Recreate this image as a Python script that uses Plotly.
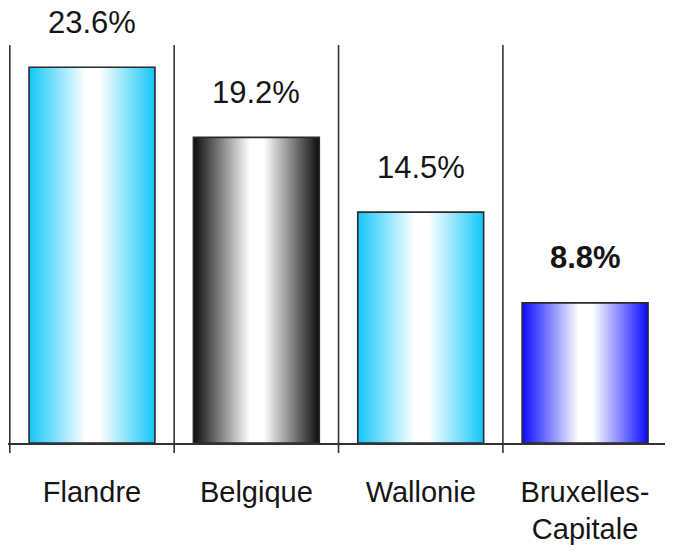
import plotly.graph_objects as go

categories = ["Flandre", "Belgique", "Wallonie", "Bruxelles-<br>Capitale"]
values = [23.6, 19.2, 14.5, 8.8]
value_labels = ["23.6%", "19.2%", "14.5%", "<b>8.8%</b>"]
edge_colors = ["#12c6f8", "#0c0c0c", "#12c6f8", "#0a0aff"]

FONT = "Liberation Sans, Arial, sans-serif"
half_w = 0.383

fig = go.Figure()
for i, (v, c) in enumerate(zip(values, edge_colors)):
    fig.add_trace(go.Scatter(
        x=[i - half_w, i + half_w, i + half_w, i - half_w, i - half_w],
        y=[0, 0, v, v, 0],
        mode="lines",
        fill="toself",
        fillgradient=dict(type="horizontal",
                          colorscale=[[0, c], [0.45, "#ffffff"], [0.56, "#ffffff"], [1, c]]),
        line=dict(color="#2a2a2a", width=1.6),
        hoverinfo="skip",
        showlegend=False,
    ))

for i, (v, t) in enumerate(zip(values, value_labels)):
    fig.add_annotation(x=i, y=v, text=t, showarrow=False, yanchor="middle",
                       yshift=45, font=dict(family=FONT, size=31, color="#151515"))

# separator lines between categories
for b in [-0.5, 0.5, 1.5, 2.5]:
    fig.add_shape(type="line", xref="x", yref="paper", x0=b, x1=b, y0=-0.025, y1=1,
                  line=dict(color="#333333", width=1.6))

fig.update_layout(
    width=665, height=552,
    margin=dict(l=0, r=0, t=37, b=117),
    paper_bgcolor="white", plot_bgcolor="white",
    showlegend=False,
)
fig.update_xaxes(range=[-0.511, 3.535], tickmode="array", tickvals=list(range(len(categories))),
                 ticktext=categories, showgrid=False, zeroline=False, showline=True,
                 linecolor="#333333", linewidth=1.6, ticks="", ticklabelstandoff=22,
                 automargin=False,
                 tickfont=dict(family=FONT, size=29, color="#151515"))
fig.update_yaxes(range=[0, 25], visible=False, showgrid=False, zeroline=False, automargin=False)

fig.write_html("out.html")
